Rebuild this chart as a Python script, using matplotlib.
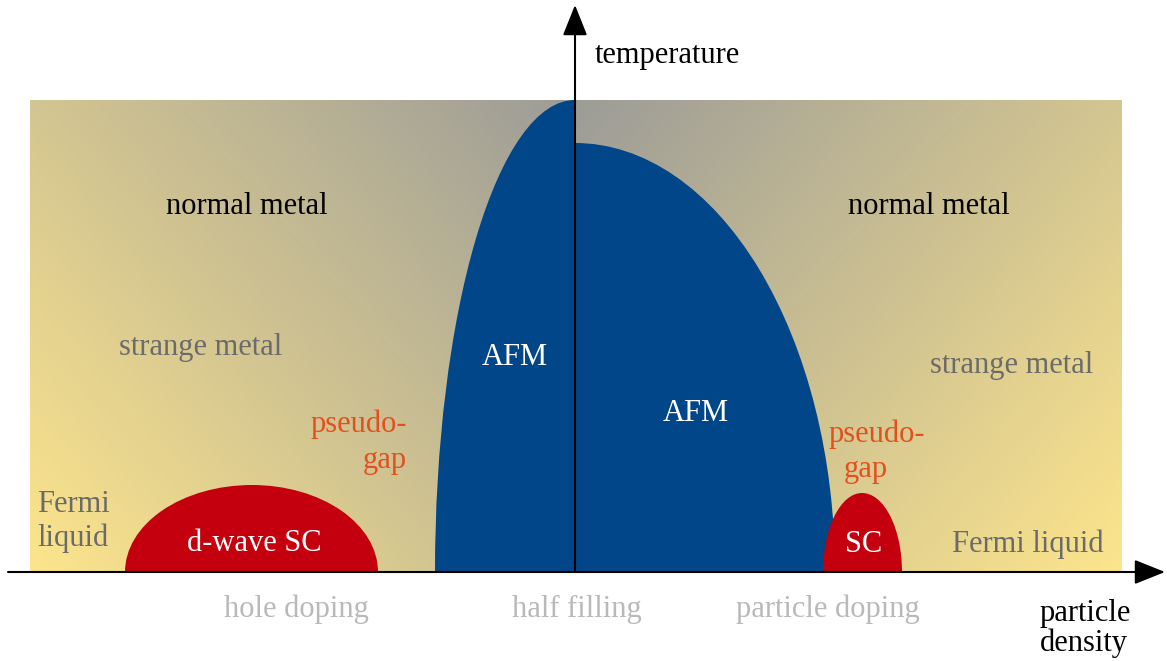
import numpy as np
import matplotlib
matplotlib.use('Agg')
import matplotlib.pyplot as plt
from matplotlib.patches import Ellipse, Rectangle

plt.rcParams['font.family'] = ['Liberation Serif', 'DejaVu Serif']

# density measured from half filling (x), temperature (T), both in figure units
bg_x = [-545, 547]
bg_t = [0, 472]

# phase domes: left edge, position of the maximum, right edge, max temperature
dome_names = ['AFM', 'AFM', 'd-wave SC', 'SC']
dome_lo = [-140, 0, -450, 248]
dome_peak = [0, 0, -323, 287]
dome_hi = [0, 260, -197, 327]
dome_tmax = [472, 429, 87, 79]
dome_colors = ['#004688', '#004688', '#c4000e', '#c4000e']

doping_labels = ['hole doping', 'half filling', 'particle doping']
doping_x = [-279, 2, 253]

fig = plt.figure(figsize=(11.67, 6.61), dpi=100)
ax = fig.add_axes([0, 0, 1, 1])
ax.set_xlim(-575, 592)
ax.set_ylim(-89, 572)
ax.axis('off')

# background: mirrored linear gradient from grey (top centre) to yellow (bottom corners)
nx, ny = 600, 300
gx = np.linspace(bg_x[0], bg_x[1], nx)
gt = np.linspace(bg_t[1], bg_t[0], ny)
X, T = np.meshgrid(gx, gt)
dvx, dvy = 545.0, 472.0
s = (np.abs(X) * dvx + (bg_t[1] - T) * dvy) / (dvx**2 + dvy**2)
s = np.clip(s, 0, 1)[..., None]
top = np.array([156, 156, 152]) / 255
bottom = np.array([253, 229, 140]) / 255
img = top + s * (bottom - top)
ax.imshow(img, extent=(bg_x[0], bg_x[1], bg_t[0], bg_t[1]), origin='upper',
          aspect='auto', zorder=0, interpolation='bilinear')

# domes, built from two quarter ellipses each
for lo, pk, hi, tm, c in zip(dome_lo, dome_peak, dome_hi, dome_tmax, dome_colors):
    for a, b in [(lo, pk), (pk, hi)]:
        if b - a <= 0:
            continue
        half_w = b - a
        e = Ellipse((pk, 0), 2 * half_w, 2 * tm, facecolor=c, edgecolor='none', zorder=2)
        ax.add_patch(e)
        clip = Rectangle((a, 0), b - a, tm + 1, transform=ax.transData)
        e.set_clip_path(clip)

# axes arrows
arrow = dict(arrowstyle='-|>,head_length=0.95,head_width=0.38', lw=1.5, color='black',
             shrinkA=0, shrinkB=0, mutation_scale=20)
ax.annotate('', xy=(590, 0), xytext=(-567, 0), arrowprops=arrow, zorder=5)
ax.annotate('', xy=(0, 567), xytext=(0, 0), arrowprops=arrow, zorder=5)

fs = 22
grey = '#6b6b6b'
orange = '#e3501f'
light = '#b9b9b9'

ax.text(20, 509, 'temperature', fontsize=fs, color='black', ha='left', va='baseline')
ax.text(465, -49, 'particle', fontsize=fs, color='black', ha='left', va='baseline')
ax.text(465, -79, 'density', fontsize=fs, color='black', ha='left', va='baseline')

for lab, x in zip(doping_labels, doping_x):
    ax.text(x, -45, lab, fontsize=fs, color=light, ha='center', va='baseline')

ax.text(-328, 358, 'normal metal', fontsize=fs, color='black', ha='center', va='baseline')
ax.text(354, 358, 'normal metal', fontsize=fs, color='black', ha='center', va='baseline')
ax.text(-374, 217, 'strange metal', fontsize=fs, color=grey, ha='center', va='baseline')
ax.text(437, 199, 'strange metal', fontsize=fs, color=grey, ha='center', va='baseline')

ax.text(-168, 140, 'pseudo-', fontsize=fs, color=orange, ha='right', va='baseline')
ax.text(-168, 104, 'gap', fontsize=fs, color=orange, ha='right', va='baseline')
ax.text(302, 130, 'pseudo-', fontsize=fs, color=orange, ha='center', va='baseline')
ax.text(291, 95, 'gap', fontsize=fs, color=orange, ha='center', va='baseline')

ax.text(-538, 60, 'Fermi', fontsize=fs, color=grey, ha='left', va='baseline')
ax.text(-538, 26, 'liquid', fontsize=fs, color=grey, ha='left', va='baseline')
ax.text(453, 20, 'Fermi liquid', fontsize=fs, color=grey, ha='center', va='baseline')

# dome labels
ax.text(-60, 207, dome_names[0], fontsize=fs, color='white', ha='center', va='baseline', zorder=4)
ax.text(121, 151, dome_names[1], fontsize=fs, color='white', ha='center', va='baseline', zorder=4)
ax.text(-321, 21, dome_names[2], fontsize=fs, color='white', ha='center', va='baseline', zorder=4)
ax.text(289, 20, dome_names[3], fontsize=fs, color='white', ha='center', va='baseline', zorder=4)

fig.savefig('out.png', dpi=100)
